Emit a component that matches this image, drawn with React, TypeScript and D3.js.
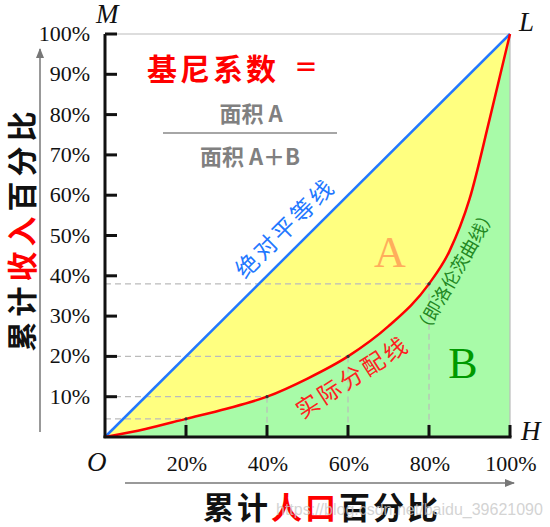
import React from "react";
import * as d3 from "d3";

const popPct = [0, 10, 20, 30, 40, 50, 60, 70, 80, 85, 90, 95, 100];
const incPct = [0, 2, 4.5, 7, 10, 14.5, 20, 27.5, 38, 46, 59, 79, 100];
const markX = [20, 40, 60, 80];
const markY = [4.5, 10, 20, 38];
const yTicks = [10, 20, 30, 40, 50, 60, 70, 80, 90, 100];
const xTicks = [20, 40, 60, 80, 100];

const W = 550, H = 527;
const CJK = "'Noto Sans CJK SC', sans-serif";
const SERIF = "'Liberation Serif', 'DejaVu Serif', serif";

export default function App() {
  const x = d3.scaleLinear().domain([0, 100]).range([105, 510]);
  const y = d3.scaleLinear().domain([0, 100]).range([437, 34]);
  const pts: [number, number][] = popPct.map((p, i) => [p, incPct[i]]);
  const curve = d3.line<[number, number]>().x(d => x(d[0])).y(d => y(d[1])).curve(d3.curveMonotoneX);
  const area = d3.area<[number, number]>().x(d => x(d[0])).y0(y(0)).y1(d => y(d[1])).curve(d3.curveMonotoneX);
  const curvePath = curve(pts) as string;
  const greenPath = area(pts) as string;
  const yellowPath = `M${x(0)},${y(0)}L${x(100)},${y(100)}` + (curve([...pts].reverse()) as string).replace(/^M/, "L") + "Z";
  const diagAngle = (Math.atan2(y(100) - y(0), x(100) - x(0)) * 180) / Math.PI;

  return (
    <svg width={W} height={H} style={{ position: "absolute", left: 0, top: 0, background: "#fff" }}>
      <defs>
        <marker id="arr" markerWidth="10" markerHeight="8" refX="9" refY="4" orient="auto" markerUnits="userSpaceOnUse">
          <path d="M0,0 L10,4 L0,8 Z" fill="#777" />
        </marker>
      </defs>
      {/* fills */}
      <path d={greenPath} fill="#a8fba8" />
      <path d={yellowPath} fill="#ffff80" />
      {/* frame top/right */}
      <line x1={x(0)} x2={x(100)} y1={y(100)} y2={y(100)} stroke="#bbb" strokeWidth={1.2} />
      <line x1={x(100)} x2={x(100)} y1={y(100)} y2={y(0)} stroke="#bbb" strokeWidth={1.2} />
      {/* dashed guides */}
      {markX.map((m, i) => (
        <g key={i}>
          <line x1={x(0)} x2={x(m)} y1={y(markY[i])} y2={y(markY[i])} stroke="#bbb" strokeWidth={1.2} strokeDasharray="6,4" />
          <line x1={x(m)} x2={x(m)} y1={y(markY[i])} y2={y(0)} stroke="#bbb" strokeWidth={1.2} strokeDasharray="6,4" />
        </g>
      ))}
      {/* diagonal */}
      <line x1={x(0)} y1={y(0)} x2={x(100)} y2={y(100)} stroke="#2277ff" strokeWidth={2.5} />
      {/* lorenz */}
      <path d={curvePath} fill="none" stroke="#ff0000" strokeWidth={2.5} />
      {markX.map((m, i) => (
        <circle key={i} cx={x(m)} cy={y(markY[i])} r={1.6} fill="#333" />
      ))}
      {/* axes */}
      <line x1={x(0)} x2={x(0)} y1={y(100)} y2={y(0) + 1} stroke="#111" strokeWidth={3} />
      <line x1={x(0) - 1.5} x2={x(100) + 1.5} y1={y(0)} y2={y(0)} stroke="#111" strokeWidth={3} />
      {yTicks.map(t => (
        <g key={t}>
          <line x1={x(0)} x2={x(0) + 12} y1={y(t)} y2={y(t)} stroke="#111" strokeWidth={3} />
          <text x={90} y={y(t) + 7} textAnchor="end" fontFamily={SERIF} fontSize={22} fill="#111">{t}%</text>
        </g>
      ))}
      {xTicks.map(t => (
        <g key={t}>
          <line x1={x(t)} x2={x(t)} y1={y(0)} y2={y(0) - 12} stroke="#111" strokeWidth={3} />
          <text x={x(t) + 1} y={471} textAnchor="middle" fontFamily={SERIF} fontSize={22} fill="#111">{t}%</text>
        </g>
      ))}
      {/* corner letters */}
      <text x={96} y={23} fontFamily={SERIF} fontStyle="italic" fontSize={27} fill="#111">M</text>
      <text x={519} y={31} fontFamily={SERIF} fontStyle="italic" fontSize={27} fill="#111">L</text>
      <text x={87} y={471} fontFamily={SERIF} fontStyle="italic" fontSize={27} fill="#111">O</text>
      <text x={521} y={440} fontFamily={SERIF} fontStyle="italic" fontSize={27} fill="#111">H</text>
      {/* axis arrows */}
      <line x1={40} x2={40} y1={432} y2={49} stroke="#777" strokeWidth={1.5} markerEnd="url(#arr)" />
      <line x1={125} x2={514} y1={483} y2={483} stroke="#777" strokeWidth={1.5} markerEnd="url(#arr)" />
      {/* axis titles */}
      <text transform="translate(33,229) rotate(-90)" textAnchor="middle" fontFamily={CJK} fontWeight={700} fontSize={30} letterSpacing={5} fill="#111">
        累计<tspan fill="#ff0000">收入</tspan>百分比
      </text>
      <text x={322} y={519} textAnchor="middle" fontFamily={CJK} fontWeight={700} fontSize={31} letterSpacing={3} fill="#111">
        累计<tspan fill="#ff0000">人口</tspan>百分比
      </text>
      {/* formula */}
      <text x={147} y={80} fontFamily={CJK} fontWeight={700} fontSize={30} letterSpacing={3} fill="#ff0000">基尼系数</text>
      <text x={294} y={76} fontFamily={CJK} fontWeight={700} fontSize={24} fill="#ff0000">＝</text>
      <text x={251} y={122} textAnchor="middle" fontFamily={CJK} fontWeight={700} fontSize={22} fill="#808080">面积 A</text>
      <line x1={163} x2={337} y1={133} y2={133} stroke="#888" strokeWidth={1.5} />
      <text x={250} y={165} textAnchor="middle" fontFamily={CJK} fontWeight={700} fontSize={22} fill="#808080">面积 A＋B</text>
      {/* region letters */}
      <text x={390} y={267} textAnchor="middle" fontFamily={SERIF} fontSize={44} fill="#ffae5c">A</text>
      <text x={463} y={378} textAnchor="middle" fontFamily={SERIF} fontSize={44} fill="#009900">B</text>
      {/* line labels */}
      <text transform={`translate(291,234) rotate(${diagAngle})`} textAnchor="middle" fontFamily={CJK} fontSize={23} letterSpacing={3} fill="#2277ff">绝对平等线</text>
      <text transform="translate(357,384) rotate(-33)" textAnchor="middle" fontFamily={CJK} fontSize={23} letterSpacing={3} fill="#ff2020">实际分配线</text>
      <text transform="translate(461,275) rotate(-60)" textAnchor="middle" fontFamily={CJK} fontSize={18} fill="#228822">（即洛伦茨曲线）</text>
      {/* watermark */}
      <text x={276} y={515} fontFamily="'Liberation Sans', sans-serif" fontSize={16} fill="#c8c8c8" fillOpacity={0.8}>https://blog.csdn.net/baidu_39621090</text>
    </svg>
  );
}
